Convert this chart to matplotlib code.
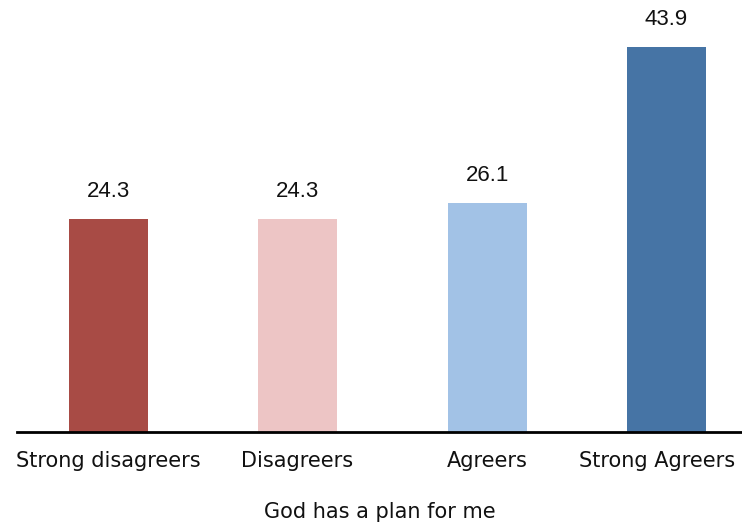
import matplotlib
matplotlib.use("Agg")
import matplotlib.pyplot as plt
from matplotlib.transforms import ScaledTranslation

categories = ["Strong disagreers", "Disagreers", "Agreers", "Strong Agreers"]
values = [24.3, 24.3, 26.1, 43.9]
colors = ["#a84b45", "#edc5c5", "#a2c2e6", "#4674a5"]
xlabel = "God has a plan for me"

positions = [0, 1.016, 2.037, 3]

fig = plt.figure(figsize=(7.42, 5.25), dpi=100)
ax = fig.add_axes([17/742, (525-432)/525, (742-17)/742, 432/525])
ax.bar(positions, values, width=0.425, color=colors)
for xi, v in zip(positions, values):
    ax.text(xi, v + 3.2, f"{v:.1f}", ha="center", va="center",
            fontsize=16, family="Liberation Sans", color="#111111")
ax.set_xlim(-0.492, 3.406)
ax.set_ylim(0, 49.3)
ax.set_xticks(positions)
ax.set_xticklabels(categories, fontsize=15, family="DejaVu Sans", color="#111111")
ax.tick_params(axis="x", length=0, pad=14)
lbls = ax.get_xticklabels()
lbls[-1].set_transform(lbls[-1].get_transform() + ScaledTranslation(-9/100, 0, fig.dpi_scale_trans))
ax.set_yticks([])
for s in ["top", "right", "left"]:
    ax.spines[s].set_visible(False)
ax.spines["bottom"].set_linewidth(2)
ax.set_xlabel(xlabel, fontsize=15, family="DejaVu Sans", labelpad=22, color="#111111")
fig.savefig("out.png", dpi=100)
